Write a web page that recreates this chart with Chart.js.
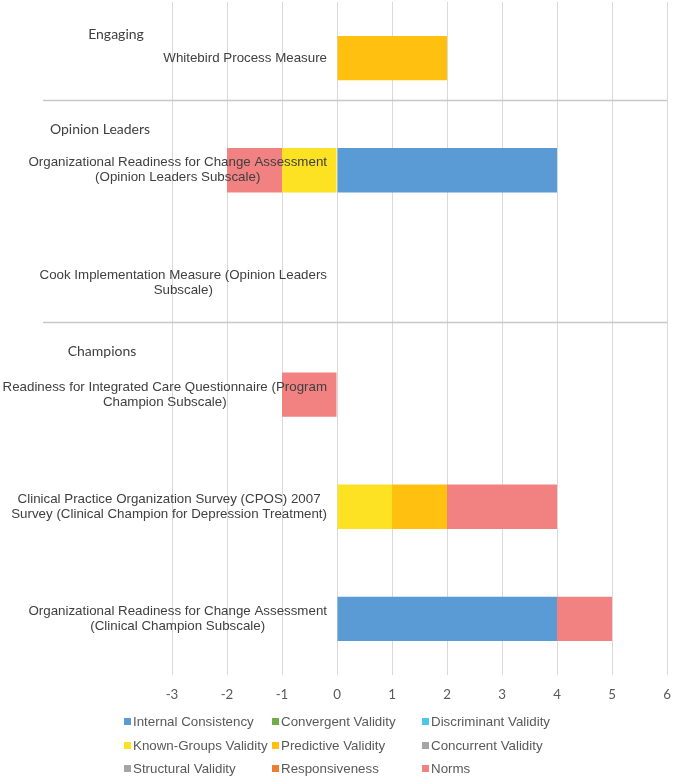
<!DOCTYPE html>
<html>
<head>
<meta charset="utf-8">
<script src="https://cdn.jsdelivr.net/npm/chart.js@4/dist/chart.umd.min.js"></script>
<style>
  html, body { margin: 0; padding: 0; background: #ffffff; }
  #wrap { position: relative; width: 674px; height: 778px; }
  #legend {
    position: absolute; left: 124px; top: 710px;
    display: grid; grid-template-columns: 148px 150px 150px;
    font-family: "Liberation Sans", Arial, sans-serif; font-size: 13.33px; color: #595959;
  }
  #legend .item { height: 23.5px; display: flex; align-items: center; white-space: nowrap; }
  #legend .sw { width: 7px; height: 7px; margin-right: 2px; flex: none; }
</style>
</head>
<body>
<div id="wrap">
  <canvas id="c" width="674" height="778"></canvas>
  <div id="legend"></div>
</div>
<script>
// ---- data ----
const categories = [
  "Whitebird Process Measure",
  ["Organizational Readiness for Change Assessment", "(Opinion Leaders Subscale)"],
  ["Cook Implementation Measure (Opinion Leaders", "Subscale)"],
  ["Readiness for Integrated Care Questionnaire (Program", "Champion Subscale)"],
  ["Clinical Practice Organization Survey (CPOS) 2007", "Survey (Clinical Champion for Depression Treatment)"],
  ["Organizational Readiness for Change Assessment", "(Clinical Champion Subscale)"]
];
const seriesNames = [
  "Internal Consistency", "Convergent Validity", "Discriminant Validity",
  "Known-Groups Validity", "Predictive Validity", "Concurrent Validity",
  "Structural Validity", "Responsiveness", "Norms"
];
const internalConsistency = [null, 4, null, null, null, 4];
const convergentValidity  = [null, null, null, null, null, null];
const discriminantValidity = [null, null, null, null, null, null];
const knownGroupsValidity = [null, -1, null, null, 1, null];
const predictiveValidity  = [2, null, null, null, 1, null];
const concurrentValidity  = [null, null, null, null, null, null];
const structuralValidity  = [null, null, null, null, null, null];
const responsiveness      = [null, null, null, null, null, null];
const norms               = [null, -1, null, -1, 2, 1];
const xTickValues = [-3, -2, -1, 0, 1, 2, 3, 4, 5, 6];
const groupHeaders = ["Engaging", "Opinion Leaders", "Champions"];

// ---- styling ----
const seriesColors = ["#5B9BD5", "#70AD47", "#4BC6E8", "#FCE222", "#FFC010", "#A5A5A5", "#A5A5A5", "#ED7D31", "#F28282"];
const seriesValues = [internalConsistency, convergentValidity, discriminantValidity, knownGroupsValidity,
  predictiveValidity, concurrentValidity, structuralValidity, responsiveness, norms];

// group header / separator positions expressed in category-index units
const headerPos = [{ idx: -0.21, cx: 116 }, { idx: 0.64, cx: 100 }, { idx: 2.62, cx: 102 }];
const separatorPos = [0.375, 2.355];

const overlay = {
  id: 'overlay',
  beforeDatasetsDraw(chart) {
    const { ctx, scales: { y }, chartArea } = chart;
    ctx.save();
    ctx.strokeStyle = '#C8C8C8';
    ctx.lineWidth = 1.3;
    separatorPos.forEach(p => {
      const py = Math.round(y.getPixelForValue(p)) + 0.5;
      ctx.beginPath(); ctx.moveTo(43, py); ctx.lineTo(chartArea.right, py); ctx.stroke();
    });
    ctx.restore();
  },
  afterDatasetsDraw(chart) {
    const { ctx, scales: { x, y } } = chart;
    ctx.save();
    // category labels, block right-aligned next to the zero line, lines centred
    ctx.font = '13.33px "Liberation Sans", Arial, sans-serif';
    ctx.fillStyle = '#404040';
    ctx.textAlign = 'center';
    ctx.textBaseline = 'middle';
    const rightEdge = x.getPixelForValue(0) - 10;
    const lh = 15;
    chart.data.labels.forEach((lab, i) => {
      const lines = Array.isArray(lab) ? lab : [lab];
      const w = Math.max(...lines.map(l => ctx.measureText(l).width));
      const cx = rightEdge - w / 2;
      const cy = y.getPixelForValue(i);
      lines.forEach((l, k) => {
        ctx.fillText(l, cx, cy + (k - (lines.length - 1) / 2) * lh);
      });
    });
    // group headers
    ctx.font = '14px Lato, "Open Sans", sans-serif';
    ctx.fillStyle = '#404040';
    groupHeaders.forEach((h, i) => {
      ctx.fillText(h, headerPos[i].cx, y.getPixelForValue(headerPos[i].idx));
    });
    ctx.restore();
  }
};

const datasets = seriesNames.map((name, i) => ({
  label: name,
  data: seriesValues[i],
  backgroundColor: seriesColors[i],
  borderWidth: 0,
  categoryPercentage: 1.0,
  barPercentage: 0.395
}));

new Chart(document.getElementById('c'), {
  type: 'bar',
  data: { labels: categories, datasets },
  options: {
    indexAxis: 'y',
    responsive: false,
    animation: false,
    layout: { padding: { top: 2, right: 0, left: 0, bottom: 0 } },
    plugins: { legend: { display: false }, tooltip: { enabled: false } },
    scales: {
      x: {
        stacked: true,
        min: -3, max: 6,
        afterBuildTicks: s => { s.ticks = xTickValues.map(v => ({ value: v })); },
        afterFit: s => { s.height = 103; s.paddingRight = 7; },
        grid: { color: '#D9D9D9', lineWidth: 1, drawTicks: false },
        border: { display: false },
        ticks: {
          padding: 12,
          color: '#595959',
          font: { family: 'Lato, "Open Sans", sans-serif', size: 13.33 }
        }
      },
      y: {
        stacked: true,
        afterFit: s => { s.width = 172; },
        grid: { display: false, drawTicks: false },
        border: { display: false },
        ticks: { display: false }
      }
    }
  },
  plugins: [overlay]
});

// legend (HTML, built from the series arrays)
const lg = document.getElementById('legend');
seriesNames.forEach((name, i) => {
  const d = document.createElement('div');
  d.className = 'item';
  d.innerHTML = '<span class="sw" style="background:' + seriesColors[i] + '"></span><span></span>';
  d.lastChild.textContent = name;
  lg.appendChild(d);
});
</script>
</body>
</html>
